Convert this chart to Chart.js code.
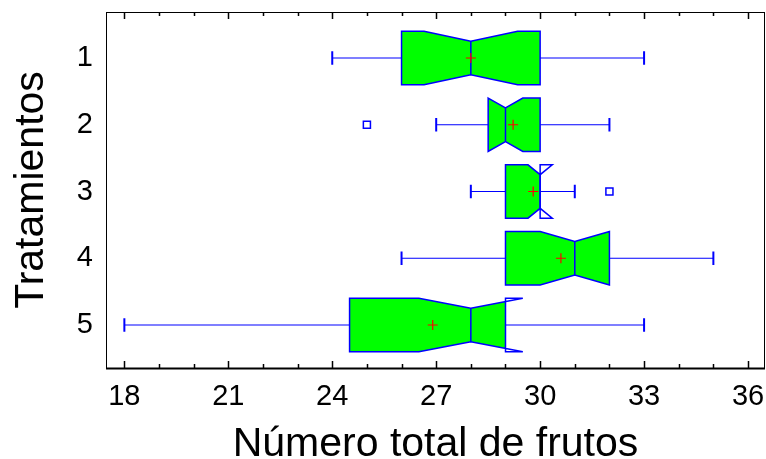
<!DOCTYPE html>
<html>
<head>
<meta charset="utf-8">
<script src="https://cdn.jsdelivr.net/npm/chart.js@4/dist/chart.umd.min.js"></script>
<style>
body { margin: 0; background: #fff; }
#wrap { width: 766px; height: 459px; }
canvas { display: block; }
</style>
</head>
<body>
<div id="wrap"><canvas id="myChart" width="766" height="459"></canvas></div>
<script>
// datos (numero total de frutos por tratamiento)
const tratamientos = ['1', '2', '3', '4', '5'];
const bigoteMin = [24, 27, 28, 26, 18];
const q1 = [26, 28.5, 29, 29, 24.5];
const mediana = [28, 29, 30, 31, 28];
const q3 = [30, 30, 30, 32, 29];
const bigoteMax = [33, 32, 31, 35, 33];
const muescaInf = [26.65, 28.5, 29.65, 30, 26.5];
const muescaSup = [29.35, 29.5, 30.35, 32, 29.5];
const medias = [28, 29.22, 29.8, 30.6, 26.9];
const atipicos = [[], [25], [32], [], []];
const xTicks = [18, 21, 24, 27, 30, 33, 36];

const fuente = "'Liberation Sans', Arial, sans-serif";

function puntosMedias() {
    return medias.map((m, i) => ({ x: m, y: i + 1 }));
}

function puntosAtipicos() {
    let pts = [];
    atipicos.forEach((lista, i) => { lista.forEach((v) => { pts.push({ x: v, y: i + 1 }); }); });
    return pts;
}

// sin relleno automatico alrededor de los ejes
function sinPadding(s) {
    s.paddingTop = 0; s.paddingBottom = 0; s.paddingLeft = 0; s.paddingRight = 0;
}

// dibuja las cajas con muesca, bigotes, marco y marcas del eje
const cajasPlugin = {
    id: 'cajas',
    beforeDatasetsDraw(chart) {
        const ctx = chart.ctx;
        const xs = chart.scales.x;
        const ys = chart.scales.y;
        const px = (v) => xs.getPixelForValue(v);
        const py = (v) => ys.getPixelForValue(v);

        tratamientos.forEach((t, i) => {
            const c = i + 1;
            const yc = py(c);
            const top = py(c - 0.4), bot = py(c + 0.4);
            const wTop = py(c - 0.4 * 0.63), wBot = py(c + 0.4 * 0.63);

            // bigotes
            ctx.save();
            ctx.strokeStyle = '#0000ff';
            ctx.lineWidth = 1.2;
            ctx.beginPath();
            ctx.moveTo(px(bigoteMin[i]), yc); ctx.lineTo(px(q1[i]), yc);
            ctx.moveTo(px(q3[i]), yc); ctx.lineTo(px(bigoteMax[i]), yc);
            ctx.stroke();
            ctx.lineWidth = 2;
            const cTop = py(c - 0.1), cBot = py(c + 0.1);
            ctx.beginPath();
            ctx.moveTo(px(bigoteMin[i]), cTop); ctx.lineTo(px(bigoteMin[i]), cBot);
            ctx.moveTo(px(bigoteMax[i]), cTop); ctx.lineTo(px(bigoteMax[i]), cBot);
            ctx.stroke();

            // contorno de la caja con muesca
            const pts = [
                [q1[i], top], [muescaInf[i], top], [mediana[i], wTop], [muescaSup[i], top], [q3[i], top],
                [q3[i], bot], [muescaSup[i], bot], [mediana[i], wBot], [muescaInf[i], bot], [q1[i], bot]
            ];
            const trazar = () => {
                ctx.beginPath();
                pts.forEach((p, k) => { if (k == 0) ctx.moveTo(px(p[0]), p[1]); else ctx.lineTo(px(p[0]), p[1]); });
                ctx.closePath();
            };

            // relleno solo entre Q1 y Q3
            ctx.save();
            const xa = Math.min(px(q1[i]), px(muescaInf[i]));
            ctx.beginPath();
            ctx.rect(xa, top - 2, px(q3[i]) - xa, bot - top + 4);
            ctx.clip();
            trazar();
            ctx.fillStyle = '#00ff00';
            ctx.fill();
            ctx.restore();

            trazar();
            ctx.strokeStyle = '#0000ff';
            ctx.lineWidth = 1.5;
            ctx.stroke();

            // linea de la mediana
            ctx.beginPath();
            ctx.moveTo(px(mediana[i]), wTop); ctx.lineTo(px(mediana[i]), wBot);
            ctx.stroke();
            ctx.restore();
        });
    },
    afterDraw(chart) {
        const ctx = chart.ctx;
        const a = chart.chartArea;
        const xs = chart.scales.x;
        ctx.save();
        ctx.strokeStyle = '#000';
        ctx.lineWidth = 1;
        ctx.strokeRect(a.left + 0.5, a.top + 0.5, a.right - a.left - 1, a.bottom - a.top);
        ctx.lineWidth = 2;
        ctx.beginPath();
        ctx.moveTo(a.left, a.bottom + 0.5); ctx.lineTo(a.right, a.bottom + 0.5);
        ctx.stroke();
        // marcas hacia dentro, arriba y abajo
        ctx.lineWidth = 1.5;
        ctx.beginPath();
        for (let v = 18; v <= 36; v++) {
            const x = Math.round(xs.getPixelForValue(v)) + 0.5;
            const len = xTicks.includes(v) ? 7 : 4;
            ctx.moveTo(x, a.bottom); ctx.lineTo(x, a.bottom - len);
            ctx.moveTo(x, a.top); ctx.lineTo(x, a.top + len);
        }
        ctx.stroke();
        ctx.restore();
    }
};

const myChart = new Chart(document.getElementById('myChart').getContext('2d'), {
    type: 'scatter',
    data: {
        datasets: [
            {
                label: 'media',
                data: puntosMedias(),
                pointStyle: 'cross',
                pointRadius: 5,
                borderColor: '#ff0000',
                borderWidth: 1.2,
                backgroundColor: '#ff0000'
            },
            {
                label: 'atipicos',
                data: puntosAtipicos(),
                pointStyle: 'rect',
                pointRadius: 5,
                borderColor: '#0000ff',
                borderWidth: 1.5,
                backgroundColor: '#ffffff'
            }
        ]
    },
    options: {
        responsive: false,
        animation: false,
        layout: { autoPadding: false, padding: { top: 12, right: 1, left: 0, bottom: 0 } },
        plugins: { legend: { display: false }, tooltip: { enabled: false } },
        scales: {
            x: {
                type: 'linear',
                position: 'bottom',
                min: 17.47,
                max: 36.49,
                grid: { display: false },
                border: { display: false },
                afterBuildTicks: (s) => { s.ticks = xTicks.map((v) => ({ value: v })); },
                afterFit: (s) => { s.height = 91; sinPadding(s); },
                ticks: { color: '#000', padding: 4, font: { family: fuente, size: 29 } },
                title: {
                    display: true,
                    text: 'Número total de frutos',
                    color: '#000',
                    padding: { top: 0, bottom: 0 },
                    font: { family: fuente, size: 41, lineHeight: 0.72 }
                }
            },
            y: {
                type: 'linear',
                reverse: true,
                min: 0.311,
                max: 5.644,
                grid: { display: false },
                border: { display: false },
                afterBuildTicks: (s) => { s.ticks = tratamientos.map((t, i) => ({ value: i + 1 })); },
                afterFit: (s) => { s.width = 106; sinPadding(s); },
                ticks: {
                    color: '#000',
                    padding: 5,
                    font: { family: fuente, size: 29 },
                    callback: (v) => tratamientos[v - 1]
                },
                title: {
                    display: true,
                    text: 'Tratamientos',
                    color: '#000',
                    padding: { top: 15, bottom: 0 },
                    font: { family: fuente, size: 41, lineHeight: 0.8 }
                }
            }
        }
    },
    plugins: [cajasPlugin]
});
</script>
</body>
</html>
